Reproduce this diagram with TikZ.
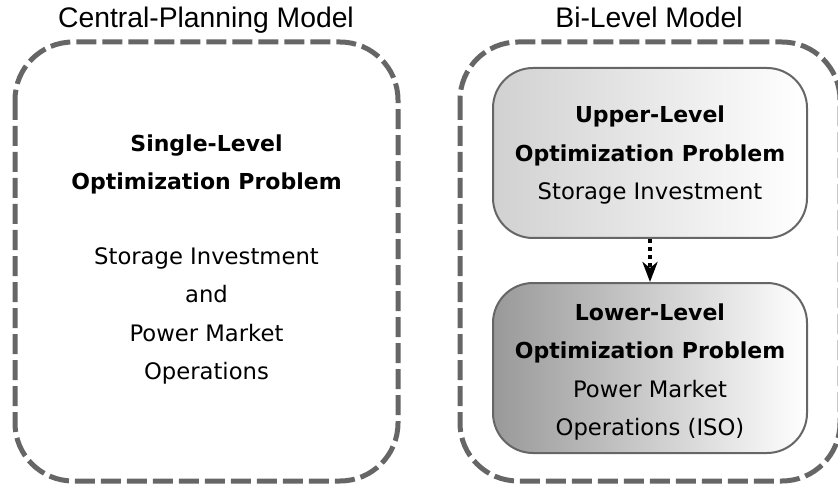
\documentclass[tikz,border=0pt]{standalone}
\usepackage{fontspec}
\setmainfont{Liberation Sans}
\newfontfamily\vfont{DejaVu Sans}
\usetikzlibrary{arrows.meta}
\definecolor{edgegray}{HTML}{666666}
\newcommand{\rgl}{\fontsize{22.7}{38.5}\selectfont}
\tikzset{
  outerbox/.style={draw=edgegray, line width=5pt, dash pattern=on 20pt off 6pt, rounded corners=58pt},
  innerbox/.style={draw=edgegray, line width=2pt, rounded corners=40pt, minimum width=314pt, minimum height=170pt, inner sep=0pt},
  titletext/.style={font=\fontsize{28.3}{32}\selectfont, anchor=base},
  bodytext/.style={align=center, font=\vfont\fontsize{22}{38.5}\selectfont},
  dotarrow/.style={line width=4pt, dash pattern=on 4pt off 4pt, -{Stealth[length=20pt,width=15pt,inset=6pt]}}
}
\begin{document}
\begin{tikzpicture}[x=1pt,y=-1pt]
\useasboundingbox (0,0) rectangle (838,489);
\begin{scope}
\clip (0,0) rectangle (838,489);
\draw[outerbox] (15,42) rectangle (398,481);
\draw[outerbox] (460,42) rectangle (840,481);
\end{scope}
\node[titletext] (t1) at (206,28) {Central-Planning Model};
\node[titletext] (t2) at (649,28) {Bi-Level Model};
\node[bodytext] (single) at (206.5,259.5) {\textbf{Single-Level}\\\textbf{Optimization Problem}\\[36pt]\rgl Storage Investment\\\rgl and\\\rgl Power Market\\\rgl Operations};
\node[innerbox, left color=black!18, right color=white] (up) at (650,153) {};
\node[innerbox, left color=black!40, right color=white] (low) at (650,368) {};
\node[bodytext] (uptext) at (650,155.5) {\textbf{Upper-Level}\\\textbf{Optimization Problem}\\\rgl Storage Investment};
\node[bodytext] (lowtext) at (650,372) {\textbf{Lower-Level}\\\textbf{Optimization Problem}\\\rgl Power Market\\\rgl Operations (ISO)};
\draw[dotarrow] (up.south) -- (low.north);
\end{tikzpicture}
\end{document}
